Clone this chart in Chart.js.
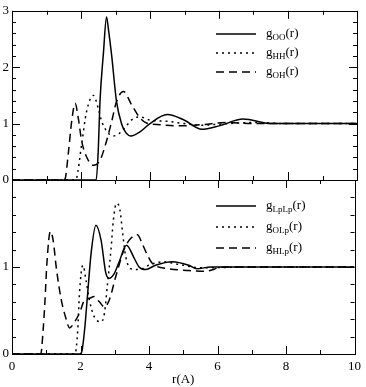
<!DOCTYPE html>
<html>
<head>
<meta charset="utf-8">
<script src="https://cdn.jsdelivr.net/npm/chart.js@4.4.0/dist/chart.umd.min.js"></script>
<style>
  html, body { margin: 0; padding: 0; background: #fff; }
  #wrap { position: relative; width: 366px; height: 387px; }
  #wrap canvas { position: absolute; left: 0; top: 0; }
</style>
</head>
<body>
<div id="wrap">
  <canvas id="topChart" width="366" height="387"></canvas>
  <canvas id="bottomChart" width="366" height="387"></canvas>
</div>
<script>
// x tick labels (r in Angstrom)
const xTicks = [0, 2, 4, 6, 8, 10];

// top panel: O-O, H-H, O-H
const rOO = [0, 2.44, 2.5, 2.55, 2.65, 2.74, 2.8, 2.89, 3.03, 3.18, 3.3, 3.45, 3.7, 4.0, 4.5, 5.0, 5.5, 6.0, 6.7, 7.5, 8.5, 10];
const gOO = [0, 0, 0.52, 1.39, 2.25, 2.89, 2.65, 2.2, 1.39, 0.99, 0.84, 0.78, 0.85, 1.0, 1.16, 1.06, 0.9, 0.96, 1.08, 1.0, 1.0, 1.0];

const rHH = [0, 1.82, 1.87, 2.02, 2.16, 2.36, 2.5, 2.6, 2.74, 2.92, 3.1, 3.3, 3.5, 3.7, 4.0, 4.5, 5.0, 5.5, 6.0, 7.0, 8.0, 10];
const gHH = [0, 0, 0.03, 0.64, 1.21, 1.5, 1.27, 1.04, 0.87, 0.78, 0.82, 0.95, 1.08, 1.12, 1.06, 1.04, 1.0, 0.97, 0.99, 1.02, 1.0, 1.0];

const rOH = [0, 1.5, 1.54, 1.63, 1.73, 1.83, 1.92, 2.02, 2.17, 2.36, 2.55, 2.74, 2.89, 3.03, 3.23, 3.47, 3.71, 3.9, 4.3, 4.8, 5.5, 6.2, 7.0, 10];
const gOH = [0, 0, 0.02, 0.46, 1.04, 1.36, 1.1, 0.69, 0.4, 0.26, 0.35, 0.69, 1.04, 1.39, 1.57, 1.33, 1.1, 1.01, 0.98, 0.96, 0.98, 1.02, 1.0, 1.0];

// bottom panel: Lp-Lp, O-Lp, H-Lp
const rLpLp = [0, 1.98, 2.04, 2.12, 2.21, 2.31, 2.45, 2.6, 2.74, 2.84, 2.98, 3.13, 3.34, 3.57, 3.71, 3.9, 4.19, 4.68, 5.16, 5.4, 5.8, 7, 10];
const gLpLp = [0, 0, 0.03, 0.28, 0.7, 1.16, 1.48, 1.31, 0.93, 0.87, 0.92, 1.06, 1.25, 1.1, 1.0, 0.97, 1.02, 1.06, 1.02, 0.98, 1.0, 1.0, 1.0];

const rOLp = [0, 1.84, 1.92, 1.97, 2.07, 2.16, 2.26, 2.4, 2.6, 2.7, 2.79, 2.89, 2.96, 3.05, 3.15, 3.23, 3.32, 3.47, 3.71, 4.0, 4.39, 4.87, 5.5, 7, 10];
const gOLp = [0, 0, 0.28, 0.7, 1.02, 0.85, 0.62, 0.43, 0.37, 0.47, 0.81, 1.2, 1.54, 1.73, 1.66, 1.39, 1.12, 0.98, 0.97, 1.02, 1.06, 1.03, 0.99, 1.0, 1.0];

const rHLp = [0, 0.84, 0.91, 0.96, 1.02, 1.12, 1.2, 1.3, 1.44, 1.59, 1.68, 1.83, 1.97, 2.12, 2.26, 2.4, 2.55, 2.7, 2.84, 3.03, 3.28, 3.47, 3.66, 3.8, 3.95, 4.1, 4.58, 5.16, 5.6, 6.2, 10];
const gHLp = [0, 0, 0.28, 0.59, 1.05, 1.41, 1.31, 0.97, 0.62, 0.39, 0.30, 0.37, 0.47, 0.62, 0.64, 0.66, 0.6, 0.54, 0.62, 0.89, 1.21, 1.33, 1.37, 1.27, 1.14, 1.04, 0.98, 0.96, 0.95, 1.0, 1.0];

const SOLID = [];
const DOTTED = [2, 4];
const DASHED = [8, 5];
const FONT = "'Liberation Serif', 'Times New Roman', serif";

function series(sub, r, g, dash) {
  return {
    label: sub,
    data: r.map((x, i) => ({ x: x, y: g[i] })),
    borderColor: '#000',
    borderWidth: 1.5,
    borderDash: dash,
    pointRadius: 0,
    fill: false,
    cubicInterpolationMode: 'monotone'
  };
}

// frame with inward ticks on all four sides
const framePlugin = {
  id: 'frame',
  afterDatasetsDraw(chart) {
    const ctx = chart.ctx;
    const a = chart.chartArea;
    const xs = chart.scales.x, ys = chart.scales.y;
    ctx.save();
    ctx.strokeStyle = '#000';
    ctx.lineWidth = 1;
    ctx.setLineDash([]);
    ctx.beginPath();
    for (let v = 0; v <= 10; v++) {
      const px = Math.round(xs.getPixelForValue(v)) + 0.5;
      const len = v % 2 === 0 ? 8 : 4;
      ctx.moveTo(px, a.bottom); ctx.lineTo(px, a.bottom - len);
      ctx.moveTo(px, a.top); ctx.lineTo(px, a.top + len);
    }
    for (let k = 0; k <= ys.max * 5 + 0.01; k++) {
      const py = Math.round(ys.getPixelForValue(k / 5)) + 0.5;
      const len = k % 5 === 0 ? 8 : 4;
      ctx.moveTo(a.left, py); ctx.lineTo(a.left + len, py);
      ctx.moveTo(a.right, py); ctx.lineTo(a.right - len, py);
    }
    ctx.stroke();
    ctx.strokeRect(Math.round(a.left) + 0.5, Math.round(a.top) + 0.5,
      Math.round(a.right - a.left), Math.round(a.bottom - a.top));
    ctx.restore();
  }
};

// legend: g with subscript, line sample on the left
const legendPlugin = {
  id: 'gLegend',
  afterDraw(chart, args, o) {
    const ctx = chart.ctx;
    ctx.save();
    chart.data.datasets.forEach((ds, i) => {
      const y = o.y0 + i * o.dy;
      ctx.strokeStyle = '#000';
      ctx.lineWidth = 1.5;
      ctx.setLineDash(ds.borderDash);
      ctx.beginPath();
      ctx.moveTo(216, y);
      ctx.lineTo(256, y);
      ctx.stroke();
      ctx.setLineDash([]);
      ctx.fillStyle = '#000';
      ctx.textBaseline = 'alphabetic';
      let x = 266;
      ctx.font = '13px ' + FONT;
      ctx.fillText('g', x, y + 3);
      x += ctx.measureText('g').width;
      ctx.font = '9px ' + FONT;
      ctx.fillText(ds.label, x, y + 6);
      x += ctx.measureText(ds.label).width;
      ctx.font = '13px ' + FONT;
      ctx.fillText('(r)', x, y + 3);
    });
    ctx.restore();
  }
};

function makePanel(id, datasets, yMax, showX, padding, legendY, legendDy) {
  return new Chart(document.getElementById(id), {
    type: 'line',
    data: { datasets: datasets },
    plugins: [framePlugin, legendPlugin],
    options: {
      responsive: false,
      animation: false,
      layout: { padding: padding },
      plugins: {
        legend: { display: false },
        tooltip: { enabled: false },
        gLegend: { y0: legendY, dy: legendDy }
      },
      scales: {
        x: {
          type: 'linear',
          display: showX,
          min: 0,
          max: 10,
          afterFit(s) { if (showX) s.height = 33; },
          afterBuildTicks(s) { s.ticks = xTicks.map(v => ({ value: v })); },
          grid: { display: false, drawTicks: false },
          border: { display: false },
          ticks: { color: '#000', padding: 5, maxRotation: 0, font: { family: FONT, size: 13 } },
          title: { display: true, text: 'r(A)', color: '#000', padding: 0, font: { family: FONT, size: 13 } }
        },
        y: {
          min: 0,
          max: yMax,
          afterFit(s) { s.width = 12; },
          grid: { display: false, drawTicks: false },
          border: { display: false },
          ticks: {
            stepSize: 1,
            color: '#000',
            padding: 3,
            font: { family: FONT, size: 13 },
            callback: v => (showX && v === yMax) ? '' : v
          }
        }
      }
    }
  });
}

makePanel('topChart', [
  series('OO', rOO, gOO, SOLID),
  series('HH', rHH, gHH, DOTTED),
  series('OH', rOH, gOH, DASHED)
], 3, false, { top: 7, right: 9, bottom: 207, left: 0 }, 34, 19);

makePanel('bottomChart', [
  series('LpLp', rLpLp, gLpLp, SOLID),
  series('OLp', rOLp, gOLp, DOTTED),
  series('HLp', rHLp, gHLp, DASHED)
], 2, true, { top: 180, right: 9, bottom: 0, left: 0 }, 206, 21);
</script>
</body>
</html>
